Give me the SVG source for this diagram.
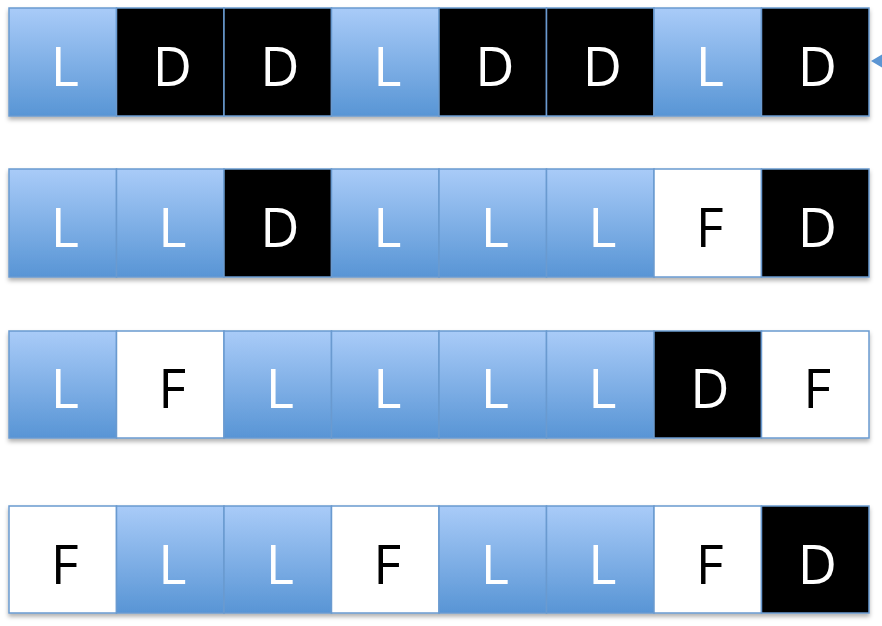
<svg xmlns="http://www.w3.org/2000/svg" width="882" height="626" viewBox="0 0 882 626">
<defs>
<linearGradient id="blue" x1="0" y1="0" x2="0" y2="1">
<stop offset="0" stop-color="#a9cbf8"/>
<stop offset="1" stop-color="#5895d5"/>
</linearGradient>
<filter id="sh" x="-5%" y="-10%" width="110%" height="130%">
<feDropShadow dx="0" dy="3" stdDeviation="2" flood-color="#000" flood-opacity="0.3"/>
</filter>
</defs>
<style>
rect{stroke:#6a9ad0;stroke-width:1.5}
.L{fill:url(#blue)}
.D{fill:#000}
.F{fill:#fff}
text{font-family:"Open Sans","Liberation Sans",sans-serif;font-size:54px;text-anchor:middle}
.tw{fill:#fff}
.tb{fill:#000}
</style>
<rect x="0" y="0" width="882" height="626" fill="#fff" style="stroke:none"/>
<g id="row1" filter="url(#sh)">
<g id="r1c1"><rect class="L" x="9" y="8" width="107.5" height="108"/><text class="tw" x="64.8" y="86">L</text></g>
<g id="r1c2"><rect class="D" x="116.5" y="8" width="107.5" height="108"/><text class="tw" x="172.3" y="86">D</text></g>
<g id="r1c3"><rect class="D" x="224" y="8" width="107.5" height="108"/><text class="tw" x="279.8" y="86">D</text></g>
<g id="r1c4"><rect class="L" x="331.5" y="8" width="107.5" height="108"/><text class="tw" x="387.3" y="86">L</text></g>
<g id="r1c5"><rect class="D" x="439" y="8" width="107.5" height="108"/><text class="tw" x="494.8" y="86">D</text></g>
<g id="r1c6"><rect class="D" x="546.5" y="8" width="107.5" height="108"/><text class="tw" x="602.3" y="86">D</text></g>
<g id="r1c7"><rect class="L" x="654" y="8" width="107.5" height="108"/><text class="tw" x="709.8" y="86">L</text></g>
<g id="r1c8"><rect class="D" x="761.5" y="8" width="107.5" height="108"/><text class="tw" x="817.3" y="86">D</text></g>
</g>
<g id="row2" filter="url(#sh)">
<g id="r2c1"><rect class="L" x="9" y="169" width="107.5" height="108"/><text class="tw" x="64.8" y="247">L</text></g>
<g id="r2c2"><rect class="L" x="116.5" y="169" width="107.5" height="108"/><text class="tw" x="172.3" y="247">L</text></g>
<g id="r2c3"><rect class="D" x="224" y="169" width="107.5" height="108"/><text class="tw" x="279.8" y="247">D</text></g>
<g id="r2c4"><rect class="L" x="331.5" y="169" width="107.5" height="108"/><text class="tw" x="387.3" y="247">L</text></g>
<g id="r2c5"><rect class="L" x="439" y="169" width="107.5" height="108"/><text class="tw" x="494.8" y="247">L</text></g>
<g id="r2c6"><rect class="L" x="546.5" y="169" width="107.5" height="108"/><text class="tw" x="602.3" y="247">L</text></g>
<g id="r2c7"><rect class="F" x="654" y="169" width="107.5" height="108"/><text class="tb" x="709.8" y="247">F</text></g>
<g id="r2c8"><rect class="D" x="761.5" y="169" width="107.5" height="108"/><text class="tw" x="817.3" y="247">D</text></g>
</g>
<g id="row3" filter="url(#sh)">
<g id="r3c1"><rect class="L" x="9" y="331" width="107.5" height="107"/><text class="tw" x="64.8" y="408">L</text></g>
<g id="r3c2"><rect class="F" x="116.5" y="331" width="107.5" height="107"/><text class="tb" x="172.3" y="408">F</text></g>
<g id="r3c3"><rect class="L" x="224" y="331" width="107.5" height="107"/><text class="tw" x="279.8" y="408">L</text></g>
<g id="r3c4"><rect class="L" x="331.5" y="331" width="107.5" height="107"/><text class="tw" x="387.3" y="408">L</text></g>
<g id="r3c5"><rect class="L" x="439" y="331" width="107.5" height="107"/><text class="tw" x="494.8" y="408">L</text></g>
<g id="r3c6"><rect class="L" x="546.5" y="331" width="107.5" height="107"/><text class="tw" x="602.3" y="408">L</text></g>
<g id="r3c7"><rect class="D" x="654" y="331" width="107.5" height="107"/><text class="tw" x="709.8" y="408">D</text></g>
<g id="r3c8"><rect class="F" x="761.5" y="331" width="107.5" height="107"/><text class="tb" x="817.3" y="408">F</text></g>
</g>
<g id="row4" filter="url(#sh)">
<g id="r4c1"><rect class="F" x="9" y="506" width="107.5" height="107"/><text class="tb" x="64.8" y="584">F</text></g>
<g id="r4c2"><rect class="L" x="116.5" y="506" width="107.5" height="107"/><text class="tw" x="172.3" y="584">L</text></g>
<g id="r4c3"><rect class="L" x="224" y="506" width="107.5" height="107"/><text class="tw" x="279.8" y="584">L</text></g>
<g id="r4c4"><rect class="F" x="331.5" y="506" width="107.5" height="107"/><text class="tb" x="387.3" y="584">F</text></g>
<g id="r4c5"><rect class="L" x="439" y="506" width="107.5" height="107"/><text class="tw" x="494.8" y="584">L</text></g>
<g id="r4c6"><rect class="L" x="546.5" y="506" width="107.5" height="107"/><text class="tw" x="602.3" y="584">L</text></g>
<g id="r4c7"><rect class="F" x="654" y="506" width="107.5" height="107"/><text class="tb" x="709.8" y="584">F</text></g>
<g id="r4c8"><rect class="D" x="761.5" y="506" width="107.5" height="107"/><text class="tw" x="817.3" y="584">D</text></g>
</g>
<g id="connectors">
<polygon points="871,61 882,54.5 882,67.5" fill="#5b95d3"/>
</g>
</svg>
